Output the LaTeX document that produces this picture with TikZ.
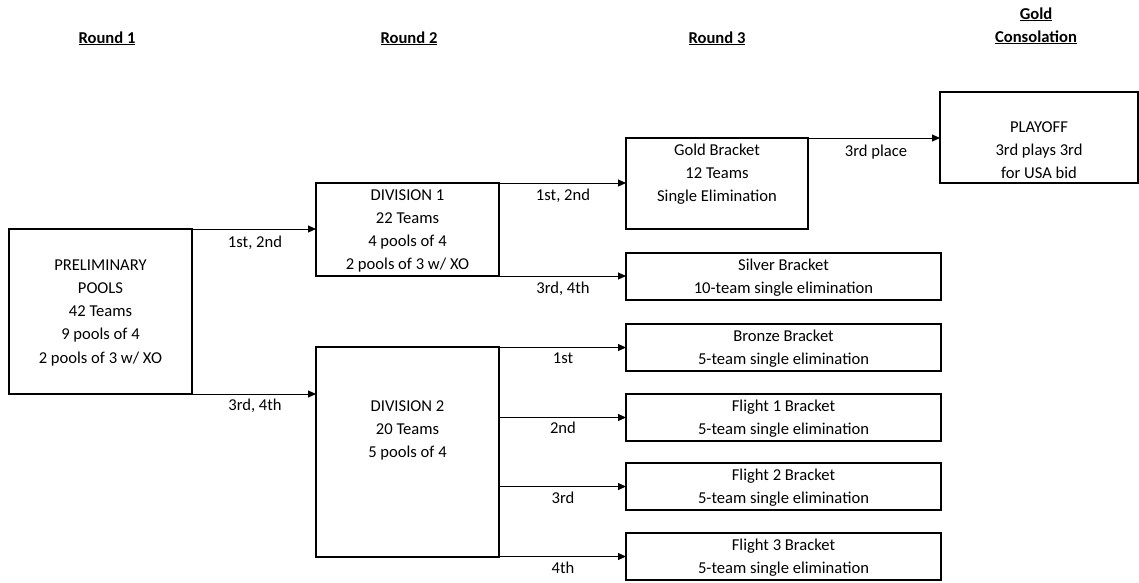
\documentclass[tikz,border=0pt]{standalone}
\usepackage{fontspec}
\setmainfont{Carlito}
\usetikzlibrary{arrows.meta}
\newcommand\bxtext[4]{\parbox[c][#2][t]{#1}{\centering\vspace*{#3}\strut#4}}
\tikzset{
  boxnode/.style={draw=black, line width=2.8pt, inner sep=0pt, outer sep=0pt, anchor=north west},
  conn/.style={draw=black, line width=1pt, -{Triangle[length=8pt,width=7pt]}},
  lbl/.style={inner sep=0pt, anchor=base},
  hdr/.style={inner sep=0pt, anchor=base, font=\fontsize{16.6}{23.3}\selectfont\bfseries},
}
\begin{document}
\begin{tikzpicture}[x=1pt, y=-1pt, font=\fontsize{16.6}{23.3}\selectfont]
\useasboundingbox (0,0) rectangle (1139,582);

% headers
\node[hdr] (h1) at (107,43) {\underline{Round 1}};
\node[hdr] (h2) at (409,43) {\underline{Round 2}};
\node[hdr] (h3) at (717,43) {\underline{Round 3}};
\node[hdr] (h4a) at (1036,19) {\underline{Gold}};
\node[hdr] (h4b) at (1036,42) {\underline{Consolation}};

% boxes
\node[boxnode] (prelim) at (9,229) {\bxtext{183pt}{165pt}{24.7pt}{PRELIMINARY\\POOLS\\42 Teams\\9 pools of 4\\2 pools of 3 w/ XO}};
\node[boxnode] (div1) at (316,183) {\bxtext{183pt}{93pt}{0.7pt}{DIVISION 1\\22 Teams\\4 pools of 4\\2 pools of 3 w/ XO}};
\node[boxnode] (div2) at (316,347) {\bxtext{183pt}{210pt}{47.7pt}{DIVISION 2\\20 Teams\\5 pools of 4}};
\node[boxnode] (gold) at (626,138) {\bxtext{182pt}{91pt}{0.7pt}{Gold Bracket\\12 Teams\\Single Elimination}};
\node[boxnode] (playoff) at (940,92) {\bxtext{198pt}{91pt}{23.7pt}{PLAYOFF\\3rd plays 3rd\\for USA bid}};
\node[boxnode] (silver) at (626,253) {\bxtext{315pt}{47pt}{0.7pt}{Silver Bracket\\10-team single elimination}};
\node[boxnode] (bronze) at (626,324) {\bxtext{315pt}{47pt}{0.7pt}{Bronze Bracket\\5-team single elimination}};
\node[boxnode] (fl1) at (626,394) {\bxtext{315pt}{47pt}{0.7pt}{Flight 1 Bracket\\5-team single elimination}};
\node[boxnode] (fl2) at (626,463) {\bxtext{315pt}{47pt}{0.7pt}{Flight 2 Bracket\\5-team single elimination}};
\node[boxnode] (fl3) at (626,533) {\bxtext{315pt}{47pt}{0.7pt}{Flight 3 Bracket\\5-team single elimination}};

% connectors
\draw[conn] (prelim.north east) -- (prelim.north east -| div1.west);
\draw[conn] (prelim.south east) -- (prelim.south east -| div2.west);
\draw[conn] (div1.north east) -- (div1.north east -| gold.west);
\draw[conn] (div1.south east) -- (div1.south east -| silver.west);
\draw[conn] (gold.north east) -- (gold.north east -| playoff.west);
\draw[conn] (bronze.west -| div2.east) -- (bronze.west);
\draw[conn] (fl1.west -| div2.east) -- (fl1.west);
\draw[conn] (fl2.west -| div2.east) -- (fl2.west);
\draw[conn] (fl3.west -| div2.east) -- (fl3.west);

% labels
\node[lbl] (l1) at (255,247) {1st, 2nd};
\node[lbl] (l2) at (255,410) {3rd, 4th};
\node[lbl] (l3) at (563,200) {1st, 2nd};
\node[lbl] (l4) at (563,293) {3rd, 4th};
\node[lbl] (l5) at (876,156) {3rd place};
\node[lbl] (l6) at (563,363) {1st};
\node[lbl] (l7) at (563,433) {2nd};
\node[lbl] (l8) at (563,503) {3rd};
\node[lbl] (l9) at (563,573) {4th};
\end{tikzpicture}
\end{document}
